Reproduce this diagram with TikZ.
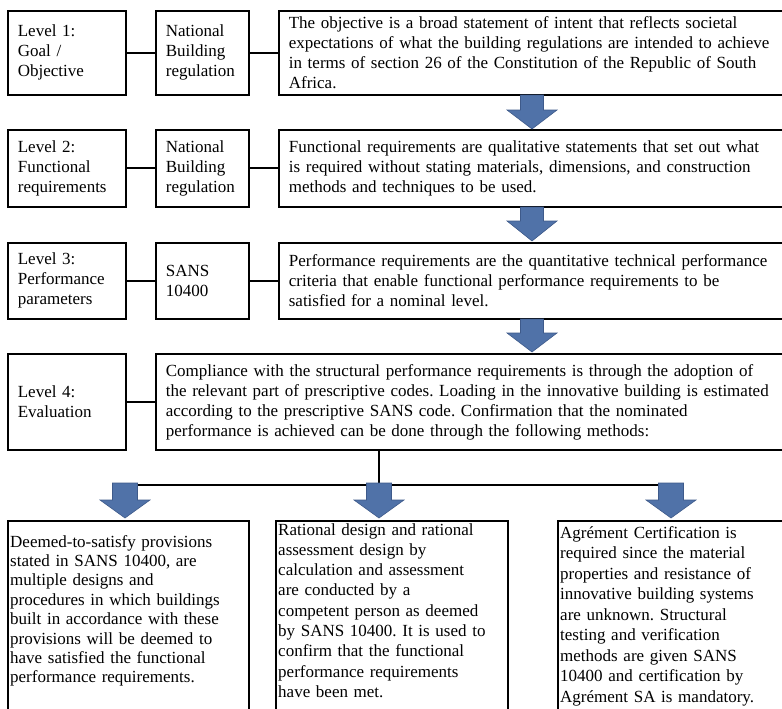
\documentclass[tikz,border=0pt]{standalone}
\usepackage{fontspec}
\setmainfont{Liberation Serif}
\frenchspacing
\definecolor{arrowfill}{RGB}{80,114,168}
\definecolor{arrowedge}{RGB}{62,90,138}
\newcommand\dnarrow[6]{%
  \filldraw[barrow] (#1-#5,#2) -- (#1+#5,#2) -- (#1+#5,#3) -- (#1+#6,#3) -- (#1,#4) -- (#1-#6,#3) -- (#1-#5,#3) -- cycle;}
\begin{document}
\begin{tikzpicture}[x=1pt,y=-1pt,
  txt/.style={font=\frenchspacing\fontsize{17}{20}\selectfont},
  box/.style={draw,line width=1.7pt,anchor=north west,inner ysep=0pt,inner xsep=10pt,
    align=left,txt},
  plain/.style={draw,line width=1.7pt,anchor=north west,inner sep=0pt},
  btext/.style={anchor=base west,inner sep=0pt,align=left,text width=300pt,txt},
  conn/.style={line width=1.8pt},
  barrow/.style={fill=arrowfill,draw=arrowedge,line width=0.6pt}]
\clip (0,0) rectangle (782,709);
\fill[white] (0,0) rectangle (782,709);
% Row 1
\node[box,minimum width=118pt,minimum height=84pt,text width=98pt] (L1) at (7,10) {Level 1:\\Goal /\\Objective};
\node[box,minimum width=93pt,minimum height=84pt,text width=73pt] (N1) at (155,10) {National\\Building\\regulation};
\node[box,minimum width=522pt,minimum height=84pt,text width=502pt] (T1) at (278,10) {The objective is a broad statement of intent that reflects societal\\expectations of what the building regulations are intended to achieve\\in terms of section 26 of the Constitution of the Republic of South\\Africa.};
% Row 2
\node[box,minimum width=118pt,minimum height=77pt,text width=98pt] (L2) at (7,129) {Level 2:\\Functional\\requirements};
\node[box,minimum width=93pt,minimum height=77pt,text width=73pt] (N2) at (155,129) {National\\Building\\regulation};
\node[box,minimum width=522pt,minimum height=77pt,text width=502pt] (T2) at (278,129) {Functional requirements are qualitative statements that set out what\\is required without stating materials, dimensions, and construction\\methods and techniques to be used.};
% Row 3
\node[box,minimum width=118pt,minimum height=76pt,text width=98pt] (L3) at (7,242) {Level 3:\\Performance\\parameters};
\node[box,minimum width=93pt,minimum height=76pt,text width=73pt] (N3) at (155,242) {SANS\\10400};
\node[box,minimum width=522pt,minimum height=76pt,text width=502pt] (T3) at (278,242) {Performance requirements are the quantitative technical performance\\criteria that enable functional performance requirements to be\\satisfied for a nominal level.};
% Row 4
\node[box,minimum width=118pt,minimum height=96pt,text width=98pt] (L4) at (7,353) {Level 4:\\Evaluation};
\node[box,minimum width=645pt,minimum height=96pt,text width=625pt] (C4) at (155,353) {Compliance with the structural performance requirements is through the adoption of\\the relevant part of prescriptive codes. Loading in the innovative building is estimated\\according to the prescriptive SANS code. Confirmation that the nominated\\performance is achieved can be done through the following methods:};
% horizontal connectors
\draw[conn] (L1) -- (N1); \draw[conn] (N1) -- (T1);
\draw[conn] (L2) -- (N2); \draw[conn] (N2) -- (T2);
\draw[conn] (L3) -- (N3); \draw[conn] (N3) -- (T3);
\draw[conn] (L4) -- (C4);
% level arrows
\dnarrow{532}{95}{110}{129}{11.5}{25}
\dnarrow{532}{207}{221}{241}{11.5}{25}
\dnarrow{532}{319}{333}{352}{11.5}{25}
% split
\coordinate (split) at (379,485);
\coordinate (hl) at (125,485);
\coordinate (hr) at (671,485);
\draw[conn] (C4.south -| split) -- (split);
\draw[conn] (hl) -- (hr);
% bottom boxes
\node[plain,minimum width=241pt,minimum height=200pt] (B1) at (7,520) {};
\node[plain,minimum width=232pt,minimum height=200pt] (B2) at (275,520) {};
\node[plain,minimum width=243pt,minimum height=200pt] (B3) at (557,520) {};
\dnarrow{125}{483}{500}{518}{12.5}{25}
\dnarrow{379}{483}{500}{518}{12.5}{25}
\dnarrow{671}{483}{500}{518}{12.5}{25}
\node[btext,font=\frenchspacing\fontsize{17}{19.4}\selectfont] (B1t) at (10,547) {Deemed-to-satisfy provisions\\stated in SANS 10400, are\\multiple designs and\\procedures in which buildings\\built in accordance with these\\provisions will be deemed to\\have satisfied the functional\\performance requirements.};
\node[btext,font=\frenchspacing\fontsize{17}{20.3}\selectfont] (B2t) at (278,535) {Rational design and rational\\assessment design by\\calculation and assessment\\are conducted by a\\competent person as deemed\\by SANS 10400. It is used to\\confirm that the functional\\performance requirements\\have been met.};
\node[btext,font=\frenchspacing\fontsize{17}{20.5}\selectfont] (B3t) at (560,538) {Agrément Certification is\\required since the material\\properties and resistance of\\innovative building systems\\are unknown. Structural\\testing and verification\\methods are given SANS\\10400 and certification by\\Agrément SA is mandatory.};
\end{tikzpicture}
\end{document}
